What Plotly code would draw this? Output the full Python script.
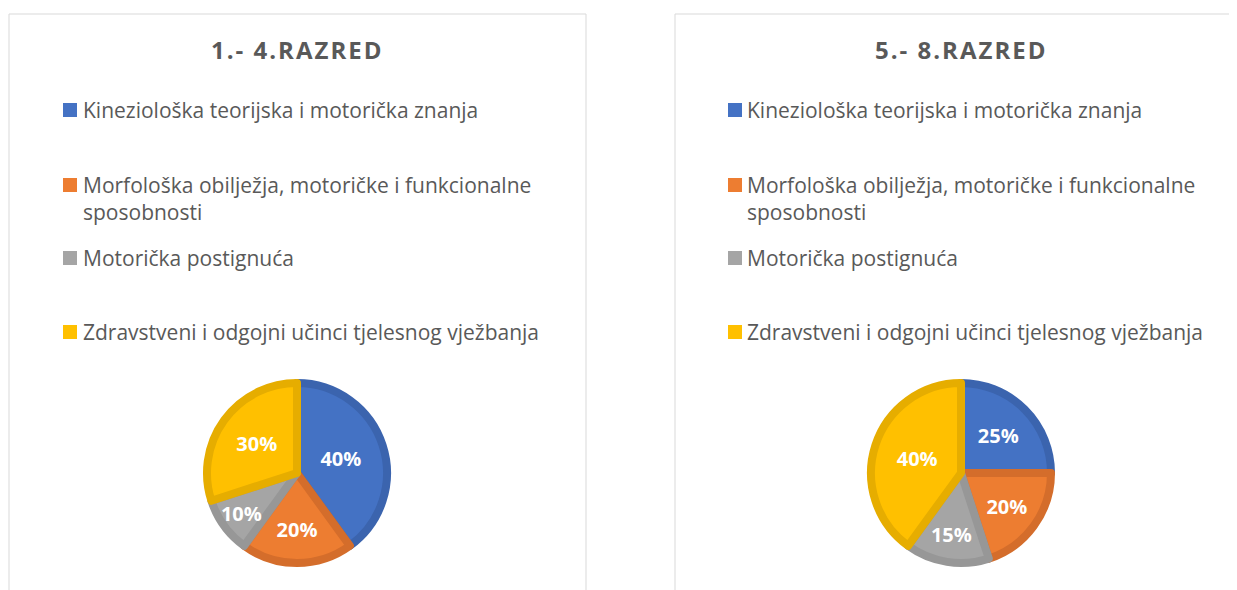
import plotly.graph_objects as go

# ---- data ----
categories = [
    "Kineziološka teorijska i motorička znanja",
    "Morfološka obilježja, motoričke i funkcionalne sposobnosti",
    "Motorička postignuća",
    "Zdravstveni i odgojni učinci tjelesnog vježbanja",
]
legend_lines = [
    ["Kineziološka teorijska i motorička znanja"],
    ["Morfološka obilježja, motoričke i funkcionalne", "sposobnosti"],
    ["Motorička postignuća"],
    ["Zdravstveni i odgojni učinci tjelesnog vježbanja"],
]
values_1_4 = [40, 20, 10, 30]
values_5_8 = [25, 20, 15, 40]
titles = ["1.- 4.RAZRED", "5.- 8.RAZRED"]

# ---- styles ----
colors = ["#4472C4", "#ED7D31", "#A5A5A5", "#FFC000"]
edge_colors = ["#3B64AE", "#D46D2B", "#979797", "#E6AD00"]
text_color = "#595959"
FONT = "Open Sans"

# page has an 8px body margin; compensate so layout matches 1237x590 window
OFF = 8
W, H = 1237 - OFF, 590 - OFF


def fx(x):
    return (x - OFF) / W


def fy(y):
    return 1 - (y - OFF) / H


panels = [
    dict(values=values_1_4, title=titles[0], box=(9, 14, 586, 640), cx=297,
         sq_x=63, txt_x=81),
    dict(values=values_5_8, title=titles[1], box=(675, 14, 1290, 640), cx=961,
         sq_x=728, txt_x=745),
]
pie_cy, pie_r = 473, 90
item_y = [110, 185, 258, 332]
line_gap = 27

fig = go.Figure()
shapes = []
annotations = []

for p in panels:
    x0, y0, x1, y1 = p["box"]
    shapes.append(dict(type="rect", xref="paper", yref="paper",
                       x0=fx(x0), x1=fx(x1), y0=fy(y1), y1=fy(y0),
                       line=dict(color="#D9D9D9", width=1),
                       fillcolor="rgba(0,0,0,0)", layer="below"))
    cx = p["cx"]
    fig.add_trace(go.Pie(
        labels=categories,
        values=p["values"],
        sort=False,
        direction="clockwise",
        rotation=0,
        marker=dict(colors=colors, line=dict(color=edge_colors, width=8)),
        texttemplate="<b>%{percent:.0%}</b>",
        textposition="inside",
        insidetextorientation="horizontal",
        textfont=dict(family=FONT, size=20, color="white"),
        hoverinfo="label+percent",
        showlegend=False,
        domain=dict(x=[fx(cx - pie_r), fx(cx + pie_r)],
                    y=[fy(pie_cy + pie_r), fy(pie_cy - pie_r)]),
    ))
    annotations.append(dict(xref="paper", yref="paper", x=fx(cx), y=fy(50),
                            text="<span style=\"letter-spacing:2px\"><b>"
                                 + p["title"] + "</b></span>",
                            showarrow=False,
                            xanchor="center", yanchor="middle",
                            font=dict(family=FONT, size=24, color=text_color)))
    for i, lines in enumerate(legend_lines):
        yc = item_y[i]
        shapes.append(dict(type="rect", xref="paper", yref="paper",
                           x0=fx(p["sq_x"]), x1=fx(p["sq_x"] + 14),
                           y0=fy(yc + 7), y1=fy(yc - 7),
                           line=dict(width=0), fillcolor=colors[i]))
        for j, ln in enumerate(lines):
            annotations.append(dict(xref="paper", yref="paper",
                                    x=fx(p["txt_x"]), y=fy(yc + j * line_gap),
                                    text=ln, showarrow=False,
                                    xanchor="left", yanchor="middle",
                                    font=dict(family=FONT, size=21,
                                              color=text_color)))

fig.update_layout(
    width=W, height=H,
    margin=dict(l=0, r=0, t=0, b=0),
    paper_bgcolor="white",
    plot_bgcolor="white",
    shapes=shapes,
    annotations=annotations,
    uniformtext=dict(minsize=20, mode="show"),
)

fig.write_html("out.html")
